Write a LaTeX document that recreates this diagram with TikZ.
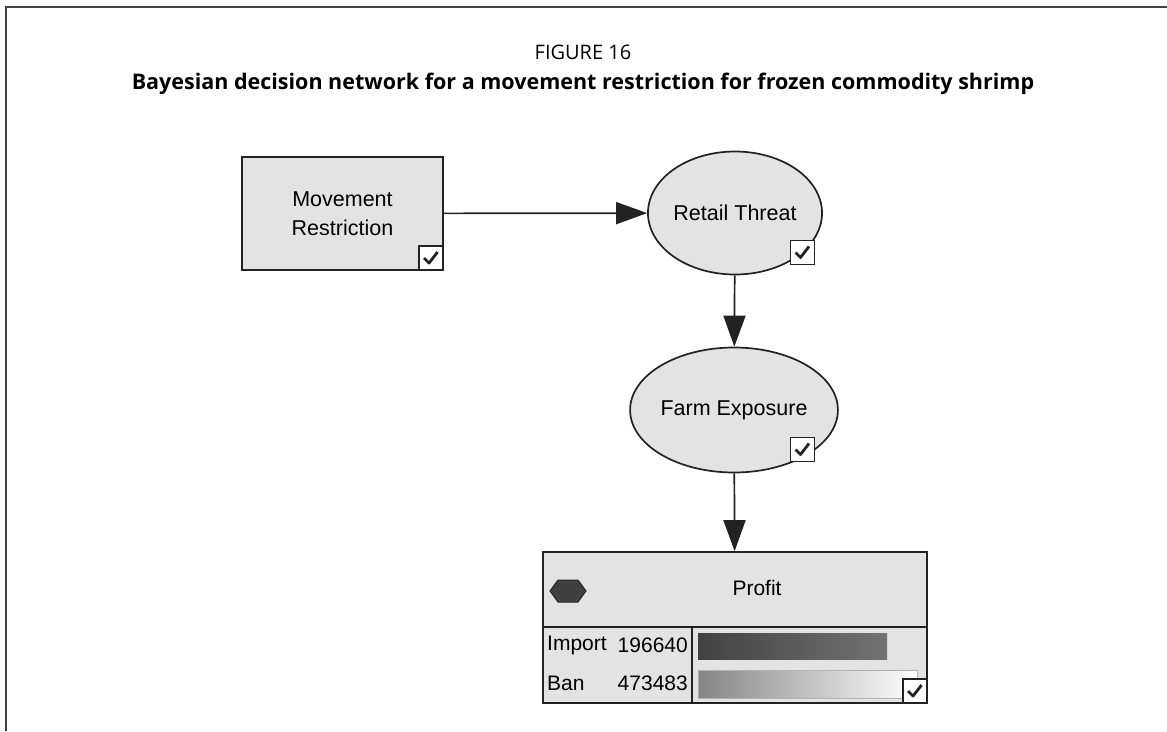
\documentclass[tikz,border=0pt]{standalone}
\usepackage{fontspec}
\setmainfont{Open Sans}
\newfontfamily\arialf{Liberation Sans}
\usetikzlibrary{arrows.meta,shapes.geometric,calc}
\definecolor{nodefill}{HTML}{E3E3E3}
\definecolor{edge}{HTML}{222222}
\begin{document}
\begin{tikzpicture}[x=1pt,y=-1pt,
  box/.style={draw=edge, line width=1.7pt, fill=nodefill, inner sep=0pt, font=\arialf\fontsize{21.5}{29}\selectfont, align=center},
  oval/.style={box, ellipse},
  arr/.style={draw=edge, line width=1.7pt, -{Triangle[length=31pt,width=22pt]}},
  lbl/.style={inner sep=0pt, font=\arialf\fontsize{21}{25}\selectfont},
  chk/.style={draw=edge, line width=1.6pt, fill=white, minimum size=24pt, inner sep=0pt,
    path picture={\draw[line width=2.8pt, edge, line join=round] ([shift={(5pt,12pt)}]path picture bounding box.south west) -- ++(5pt,-5pt) -- ++(8.5pt,11pt);}},
]
\useasboundingbox (0,0) rectangle (1167,731);
\draw[line width=2pt, black!75] (6,731) -- (6,7) -- (1167,7);

\node[inner sep=0pt, font=\fontsize{20}{24}\selectfont] (fig) at (583,52) {FIGURE 16};
\node[inner sep=0pt, font=\bfseries\fontsize{21.5}{25}\selectfont] (cap) at (583,84) {Bayesian decision network for a movement restriction for frozen commodity shrimp};

\node[box, minimum width=201pt, minimum height=113pt] (mr) at (342.5,213.5) {Movement\\Restriction};
\node[chk, anchor=south east] (mrc) at (mr.south east) {};

\node[oval, minimum width=171pt, minimum height=123pt] (rt) at (735,213) {Retail Threat};
\node[chk] (rtc) at (802.5,252.5) {};

\node[oval, minimum width=172pt, minimum height=125pt] (fe) at (734,410) {Farm Exposure};
\node[chk] (fec) at (802.5,449.5) {};

\node[box, minimum width=384pt, minimum height=151pt] (pr) at (735,627.5) {};
\draw[line width=1.7pt, edge] (543,627) -- (927,627);
\draw[line width=1.7pt, edge] (692,627) -- (692,703);
\filldraw[fill=black!75, draw=black!85, line width=1pt] (550,591) -- (558,580) -- (578,580) -- (586,591) -- (578,602) -- (558,602) -- cycle;
\node[lbl] (prt) at (757,588) {Profit};
\node[lbl, anchor=west] (imp) at (547,645) {Import};
\node[lbl, anchor=east] (impv) at (688,645) {196640};
\node[lbl, anchor=west] (ban) at (547,683) {Ban};
\node[lbl, anchor=east] (banv) at (688,683) {473483};
\shade[left color=black!74, right color=black!55] (698,633) rectangle (887,659);
\shade[left color=black!48, right color=white] (698,670) rectangle (917,698);
\draw[black!30, line width=0.8pt] (698,670) rectangle (917,698);
\node[chk, anchor=south east] (prc) at (pr.south east) {};

\draw[arr] (mr) -- (rt);
\draw[arr] (rt) -- (fe);
\draw[arr] (fe) -- (pr);
\end{tikzpicture}
\end{document}
